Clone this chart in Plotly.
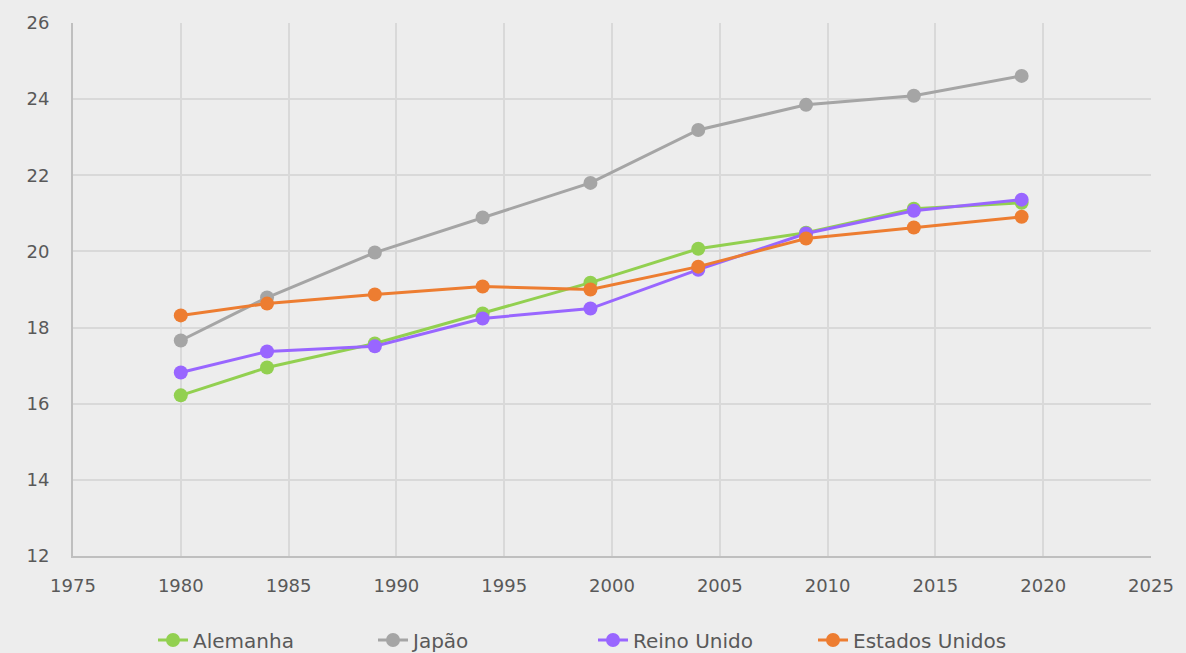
import plotly.graph_objects as go

years = [1980, 1984, 1989, 1994, 1999, 2004, 2009, 2014, 2019]
alemanha = [16.22, 16.95, 17.58, 18.37, 19.18, 20.07, 20.49, 21.12, 21.28]
japao = [17.66, 18.79, 19.97, 20.89, 21.80, 23.19, 23.85, 24.09, 24.61]
reino_unido = [16.82, 17.37, 17.51, 18.24, 18.50, 19.52, 20.47, 21.07, 21.36]
estados_unidos = [18.32, 18.63, 18.87, 19.08, 19.00, 19.60, 20.34, 20.63, 20.91]

series = [
    ("Alemanha", alemanha, "#92D050"),
    ("Japão", japao, "#A5A5A5"),
    ("Reino Unido", reino_unido, "#9966FF"),
    ("Estados Unidos", estados_unidos, "#ED7D31"),
]

fig = go.Figure()
for name, vals, color in series:
    fig.add_trace(go.Scatter(
        x=years, y=vals, name=name, mode="lines+markers",
        line=dict(color=color, width=3),
        marker=dict(color=color, size=14),
    ))

font_family = "'DejaVu Sans', sans-serif"
fig.update_layout(
    width=1186, height=653,
    paper_bgcolor="#EDEDED", plot_bgcolor="#EDEDED",
    margin=dict(l=73, r=31, t=22, b=97),
    font=dict(family=font_family, size=18, color="#595959"),
    legend=dict(orientation="h", x=0.5, xanchor="center", xref="container",
                y=13 / 653, yanchor="middle", yref="container",
                font=dict(size=20, color="#595959"), tracegroupgap=0,
                entrywidth=175),
    showlegend=True,
)
fig.update_xaxes(range=[1975, 2025], tick0=1975, dtick=5, showgrid=True,
                 gridcolor="#D9D9D9", gridwidth=2, showline=True, linecolor="#BFBFBF",
                 linewidth=2, zeroline=False, ticks="outside", ticklen=12,
                 tickcolor="rgba(0,0,0,0)")
fig.update_yaxes(range=[12, 26], tick0=12, dtick=2, showgrid=True,
                 gridcolor="#D9D9D9", gridwidth=2, showline=True, linecolor="#BFBFBF",
                 linewidth=2, zeroline=False, ticks="outside", ticklen=18,
                 tickcolor="rgba(0,0,0,0)")

fig.write_html("out.html", config={"displayModeBar": False},
               post_script="document.body.style.margin='0';document.body.style.background='#EDEDED';")
